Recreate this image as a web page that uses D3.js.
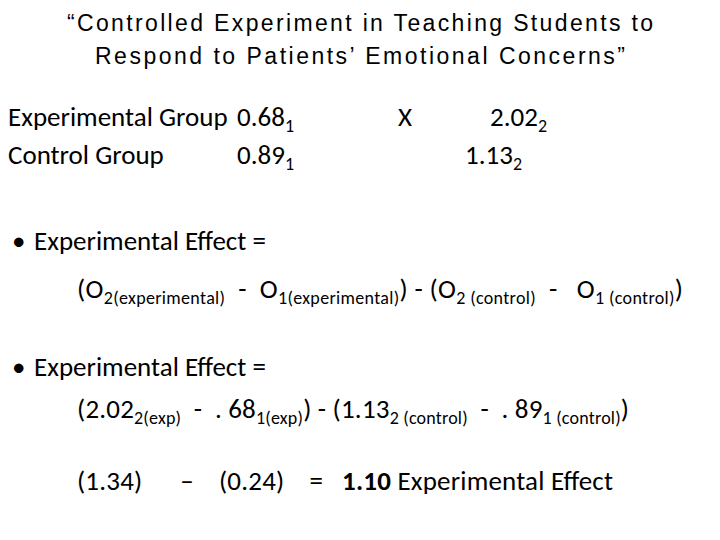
<!DOCTYPE html>
<html><head><meta charset="utf-8">
<script src="https://cdn.jsdelivr.net/npm/d3@7"></script>
<style>body{margin:0;background:#fff}</style>
</head><body>
<div id="slide"></div>
<script>
// slide content
var titleLines = ["\u201cControlled Experiment in Teaching Students to", "Respond to Patients\u2019 Emotional Concerns\u201d"];
var groups = ["Experimental Group", "Control Group"];
var pretest = ["0.68", "0.89"];
var posttest = ["2.02", "1.13"];
var treatment = ["X", ""];

// each line is a list of [text, style] pieces; style: n normal, s subscript, b bold
var effectLines = [
  [["(O", "n"], ["2(experimental)", "s"], ["  -  O", "n"], ["1(experimental)", "s"], [") - (O", "n"], ["2 (control)", "s"], ["  -   O", "n"], ["1 (control)", "s"], [")", "n"]],
  [["(2.02", "n"], ["2(exp)", "s"], ["  -  . 68", "n"], ["1(exp)", "s"], [") - (1.13", "n"], ["2 (control)", "s"], ["  -  . 89", "n"], ["1 (control)", "s"], [")", "n"]],
  [["(1.34)      \u2013    (0.24)    =   ", "n"], ["1.10", "b"], [" Experimental Effect", "n"]]
];

var width = 720, height = 540;
var svg = d3.select("#slide").append("svg").attr("width", width).attr("height", height);
var body = "Carlito, Lato, 'Open Sans', sans-serif";
var fs = 27, sub = 18;

svg.selectAll("text.title").data(titleLines).join("text")
  .attr("class", "title")
  .attr("x", 360).attr("y", function(d, i) { return 31 + i * 33; })
  .attr("text-anchor", "middle")
  .style("font", "23px 'Liberation Sans', Arial, sans-serif")
  .attr("textLength", function(d, i) { return i ? 530 : 586; })
  .text(function(d) { return d; });

var rowY = d3.scaleBand().domain(groups).range([104, 180]);

function withSub(sel, x, vals, s) {
  var t = sel.append("text").attr("x", x).style("font", fs + "px " + body);
  t.append("tspan").text(vals);
  t.append("tspan").attr("dy", 6).style("font-size", sub + "px").text(s);
}

groups.forEach(function(g, i) {
  var y = rowY(g) + 22;
  var row = svg.append("g").attr("transform", "translate(0," + y + ")");
  row.append("text").attr("x", 8).style("font", fs + "px " + body).text(g);
  withSub(row, 237, pretest[i], "1");
  row.append("text").attr("x", 398).style("font", fs + "px " + body).text(treatment[i]);
  withSub(row, i ? 465 : 490, posttest[i], "2");
});

var bulletY = [250, 376];
bulletY.forEach(function(y) {
  svg.append("text").attr("x", 12).attr("y", y).style("font", fs + "px " + body).text("\u2022");
  svg.append("text").attr("x", 34).attr("y", y).style("font", fs + "px " + body).text("Experimental Effect =");
});

var lineY = [298, 418, 490];
var lineLen = [606, 552, 536];
effectLines.forEach(function(parts, i) {
  var t = svg.append("text").attr("x", 77).attr("y", lineY[i])
    .style("font", fs + "px " + body).attr("xml:space", "preserve").style("white-space", "pre");
  var shifted = 0;
  parts.forEach(function(p) {
    var sp = t.append("tspan").text(p[0]);
    if (p[1] === "s") { sp.attr("dy", 6 - shifted).style("font-size", sub + "px"); shifted = 6; }
    else { sp.attr("dy", -shifted); shifted = 0; if (p[1] === "b") sp.style("font-weight", "bold"); }
  });
  t.attr("textLength", lineLen[i]).attr("lengthAdjust", "spacing");
});
</script>
</body></html>
